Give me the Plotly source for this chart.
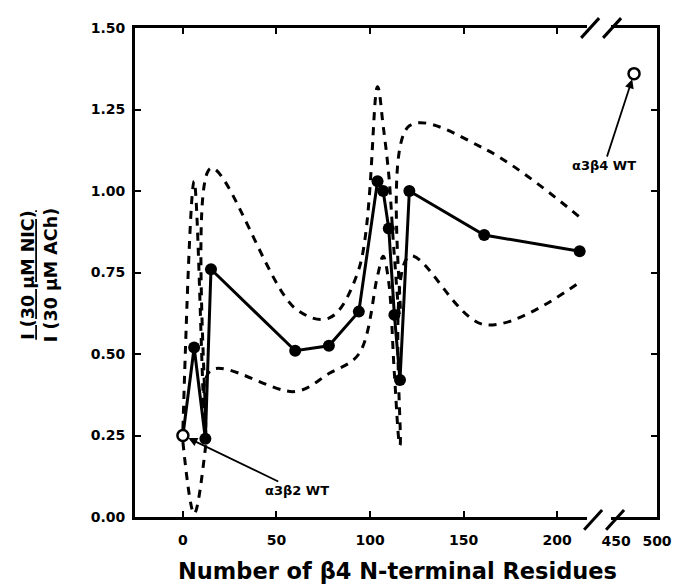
import plotly.graph_objects as go

# ---- data ----
x_res = [0, 6, 12, 15, 60, 78, 94, 104, 107, 110, 113, 116, 121, 161, 212]
ratio = [0.25, 0.52, 0.24, 0.76, 0.51, 0.525, 0.63, 1.03, 1.00, 0.885, 0.62, 0.42, 1.00, 0.865, 0.815]
upper = [0.27, 1.03, 0.27, 1.07, 0.64, 0.61, 0.76, 1.32, 1.20, 1.05, 0.80, 0.62, 1.20, 1.13, 0.92]
lower = [0.23, 0.01, 0.21, 0.45, 0.385, 0.44, 0.50, 0.74, 0.80, 0.72, 0.44, 0.22, 0.80, 0.59, 0.72]
wt_b4_x = [472]
wt_b4_y = [1.36]
x_ticks = [0, 50, 100, 150, 200]
x2_ticks = [450, 500]
y_ticks = [0.0, 0.25, 0.5, 0.75, 1.0, 1.25, 1.5]
y_labels = ["0.00", "0.25", "0.50", "0.75", "1.00", "1.25", "1.50"]

# page has an 8px body margin: lay the figure out so page pixels match the reference
OFF = 8
W, H = 684 - OFF, 588 - OFF
L, R, T, B = 135 - OFF, 26, 22 - OFF, 71
PW, PH = W - L - R, H - T - B


def px(xp):  # page pixel -> paper x
    return (xp - OFF - L) / PW


def py(yp):  # page pixel -> paper y
    return (H - B - (yp - OFF)) / PH


FONT = "DejaVu Sans"
dash = "8px,7px"

fig = go.Figure()
for band in (upper, lower):
    fig.add_trace(go.Scatter(x=x_res, y=band, mode="lines",
                             line=dict(color="black", width=3, dash=dash,
                                       shape="spline", smoothing=1.0),
                             hoverinfo="skip", showlegend=False))
fig.add_trace(go.Scatter(x=x_res, y=ratio, mode="lines",
                         line=dict(color="black", width=3), showlegend=False))
fig.add_trace(go.Scatter(x=x_res[1:], y=ratio[1:], mode="markers",
                         marker=dict(color="black", size=12), showlegend=False))
fig.add_trace(go.Scatter(x=x_res[:1], y=ratio[:1], mode="markers",
                         marker=dict(color="white", size=11,
                                     line=dict(color="black", width=2.5)),
                         showlegend=False))
fig.add_trace(go.Scatter(x=wt_b4_x, y=wt_b4_y, mode="markers", xaxis="x2", yaxis="y2",
                         marker=dict(color="white", size=11,
                                     line=dict(color="black", width=2.5)),
                         showlegend=False))

d1 = px(588)
d2 = px(612)
axis_common = dict(showline=True, linecolor="black", linewidth=3, ticks="inside",
                   tickcolor="black", tickwidth=2, ticklen=6, showgrid=False,
                   zeroline=False,
                   tickfont=dict(family=FONT, size=14, color="black", weight="bold"))

fig.update_layout(
    width=W, height=H, margin=dict(l=L, r=R, t=T, b=B),
    paper_bgcolor="white", plot_bgcolor="white", showlegend=False,
    xaxis=dict(domain=[0, d1], range=[-25.6, 216], tickvals=x_ticks,
               ticktext=[str(v) for v in x_ticks], mirror="ticks", anchor="y",
               ticklabelstandoff=8, **axis_common),
    xaxis2=dict(domain=[d2, 1], range=[444, 500], tickvals=x2_ticks,
                ticktext=[str(v) for v in x2_ticks], mirror=True, anchor="y2",
                ticklabelstandoff=9,
                **{**axis_common, "ticks": ""}),
    yaxis=dict(range=[0, 1.5], tickvals=y_ticks, ticktext=y_labels, anchor="x",
               ticklabelstandoff=4, **axis_common),
    yaxis2=dict(range=[0, 1.5], tickvals=y_ticks, showticklabels=False, anchor="x2",
                overlaying="y", side="right", **axis_common),
)

# axis-break slashes
for (x0, y0, x1, y1) in [(582, 32, 600, 12), (604, 32, 622, 12),
                         (585, 530, 603, 510), (607, 530, 625, 510)]:
    fig.add_shape(type="line", xref="paper", yref="paper",
                  x0=px(x0), y0=py(y0), x1=px(x1), y1=py(y1),
                  line=dict(color="black", width=3))

anns = [
    dict(text="Number of β4 N-terminal Residues", xref="paper", yref="paper",
         x=px(398), y=py(572), xanchor="center", yanchor="middle", showarrow=False,
         font=dict(family=FONT, size=22.5, color="black", weight="bold")),
    dict(text="<u>I (30 μM NIC)</u><br>I (30 μM ACh)", xref="paper", yref="paper",
         x=px(40), y=py(272), xanchor="center", yanchor="middle", showarrow=False,
         textangle=-90,
         font=dict(family=FONT, size=17.5, color="black", weight="bold")),
    dict(text="α3β2 WT", x=0, y=0.25, xref="x", yref="y", ax=114, ay=55,
         showarrow=True, arrowhead=2, arrowsize=1, arrowwidth=1.8, standoff=6,
         arrowcolor="black",
         font=dict(family=FONT, size=13, color="black", weight="bold")),
    dict(text="α3β4 WT", x=472, y=1.36, xref="x2", yref="y2", ax=-30, ay=92,
         showarrow=True, arrowhead=2, arrowsize=1, arrowwidth=1.8, standoff=6,
         arrowcolor="black",
         font=dict(family=FONT, size=13, color="black", weight="bold")),
]
fig.update_layout(annotations=anns)

fig.write_html("out.html")
